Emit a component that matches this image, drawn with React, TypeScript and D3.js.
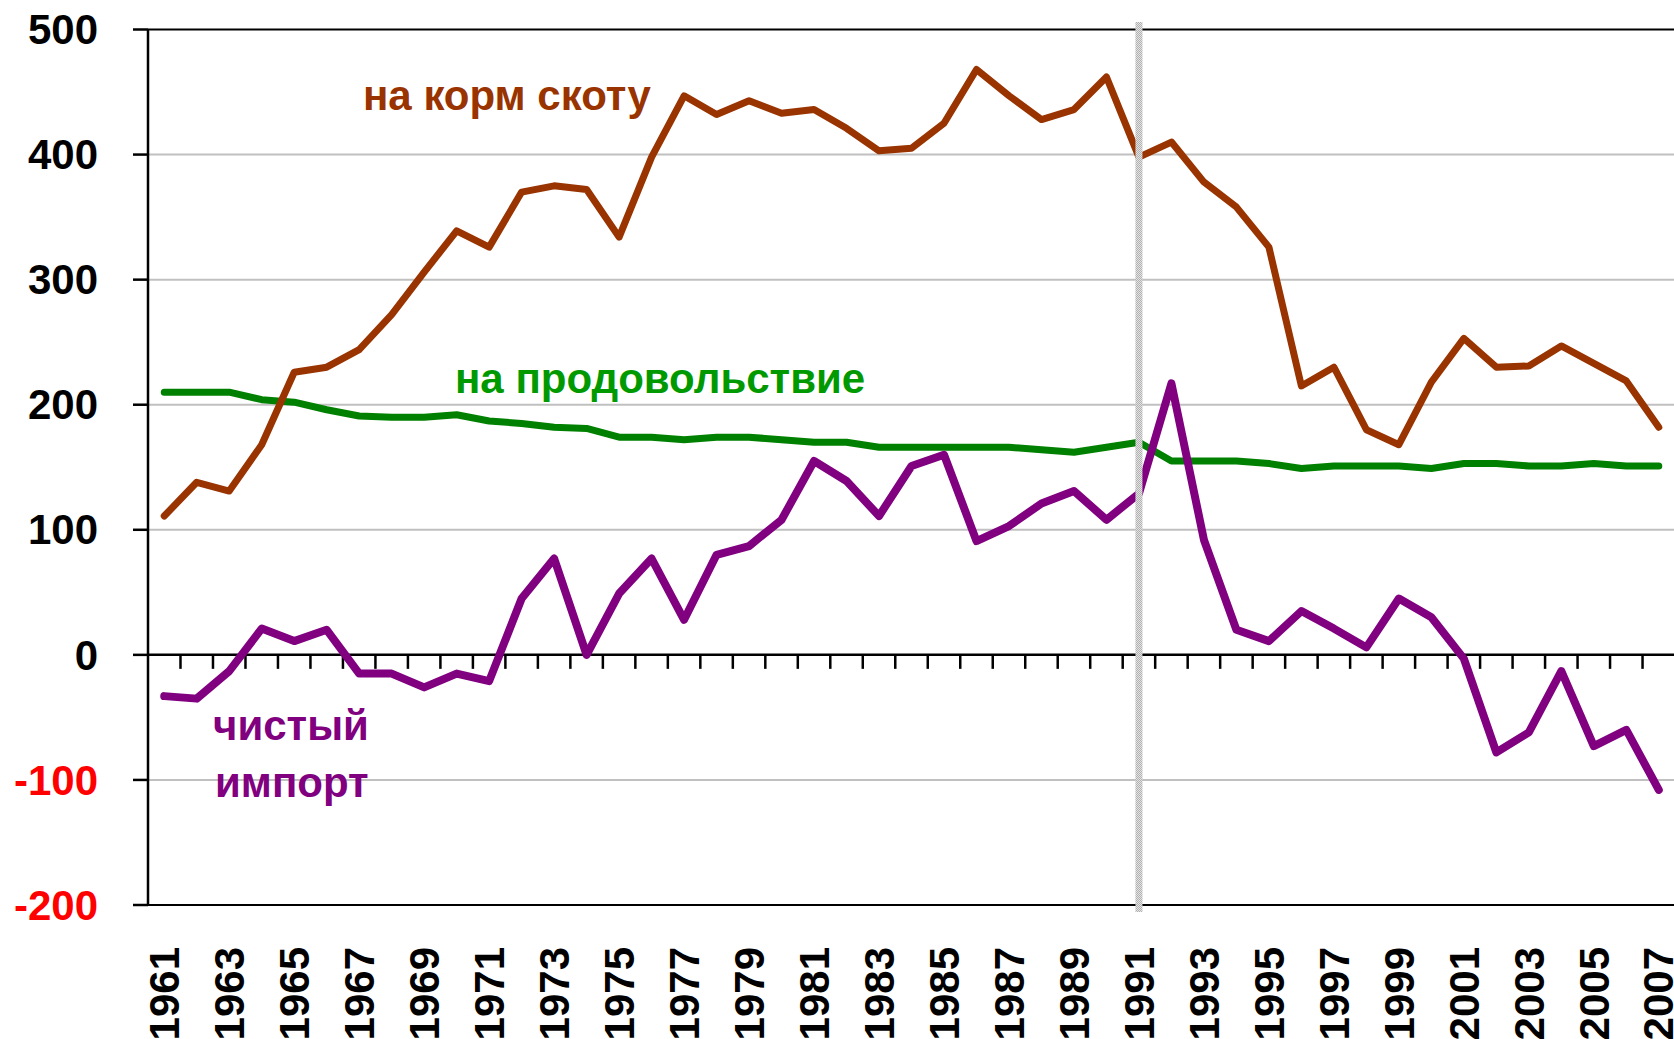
import React from 'react';
import * as d3 from 'd3';

const years = [
  1961, 1962, 1963, 1964, 1965, 1966, 1967, 1968, 1969, 1970,
  1971, 1972, 1973, 1974, 1975, 1976, 1977, 1978, 1979, 1980,
  1981, 1982, 1983, 1984, 1985, 1986, 1987, 1988, 1989, 1990,
  1991, 1992, 1993, 1994, 1995, 1996, 1997, 1998, 1999, 2000,
  2001, 2002, 2003, 2004, 2005, 2006, 2007,
];

// на корм скоту
const feed = [
  111, 138, 131, 168, 226, 230, 244, 272, 306, 339,
  326, 370, 375, 372, 334, 398, 447, 432, 443, 433,
  436, 421, 403, 405, 425, 468, 447, 428, 436, 462,
  398, 410, 378, 358, 326, 215, 230, 180, 168, 218,
  253, 230, 231, 247, 233, 219, 182,
];

// на продовольствие
const food = [
  210, 210, 210, 204, 202, 196, 191, 190, 190, 192,
  187, 185, 182, 181, 174, 174, 172, 174, 174, 172,
  170, 170, 166, 166, 166, 166, 166, 164, 162, 166,
  170, 155, 155, 155, 153, 149, 151, 151, 151, 149,
  153, 153, 151, 151, 153, 151, 151,
];

// чистый импорт
const netImport = [
  -33, -35, -13, 21, 11, 20, -15, -15, -26, -15,
  -21, 45, 77, 0, 49, 77, 28, 80, 87, 108,
  155, 139, 111, 151, 160, 91, 103, 121, 131, 108,
  129, 217, 92, 20, 11, 35, 21, 6, 45, 30,
  -3, -78, -62, -13, -73, -60, -108,
];

const yTicks = [500, 400, 300, 200, 100, 0, -100, -200];
const yearLabels = years.filter((y) => y % 2 === 1);
const breakYear = 1991;

const W = 1674;
const H = 1039;
const FONT = '"Liberation Sans", Arial, sans-serif';

const App = () => {
  const x = d3.scaleBand<number>().domain(years).range([148, 148 + 47 * 32.49]);
  const y = d3.scaleLinear().domain([-200, 500]).range([905, 29.5]);
  const cx = (yr: number) => (x(yr) as number) + x.bandwidth() / 2;

  const line = d3
    .line<number>()
    .x((_, i) => cx(years[i]))
    .y((d) => y(d));

  const left = 148;
  const right = W;

  return (
    <svg
      width={W}
      height={H}
      style={{ position: 'absolute', left: 0, top: 0, background: '#fff' }}
      fontFamily={FONT}
      fontWeight="bold"
    >
      <defs>
        <pattern id="hatch" width="2" height="2" patternUnits="userSpaceOnUse">
          <rect width="2" height="2" fill="#e4e4e4" />
          <rect width="1" height="1" fill="#b0b0b0" />
          <rect x="1" y="1" width="1" height="1" fill="#b0b0b0" />
        </pattern>
      </defs>

      {/* gridlines */}
      {yTicks
        .filter((t) => t !== 500 && t !== 0 && t !== -200)
        .map((t) => (
          <line key={t} x1={left} x2={right} y1={y(t)} y2={y(t)} stroke="#c0c0c0" strokeWidth={2} />
        ))}
      <line x1={left} x2={right} y1={y(500)} y2={y(500)} stroke="#000" strokeWidth={2} />
      <line x1={left} x2={right} y1={y(-200)} y2={y(-200)} stroke="#000" strokeWidth={2} />

      {/* y axis */}
      <line x1={left} x2={left} y1={y(500)} y2={y(-200)} stroke="#000" strokeWidth={2.5} />
      {yTicks.map((t) => (
        <g key={t}>
          <line x1={133} x2={left} y1={y(t)} y2={y(t)} stroke="#000" strokeWidth={2.5} />
          <text
            x={98}
            y={y(t)}
            dy="0.35em"
            textAnchor="end"
            fontSize={42}
            fill={t < 0 ? '#ff0000' : '#000'}
          >
            {t}
          </text>
        </g>
      ))}

      {/* zero axis with category ticks */}
      <line x1={left} x2={right} y1={y(0)} y2={y(0)} stroke="#000" strokeWidth={2.5} />
      {years.slice(1).map((yr) => (
        <line
          key={yr}
          x1={x(yr) as number}
          x2={x(yr) as number}
          y1={y(0)}
          y2={y(0) + 14}
          stroke="#000"
          strokeWidth={2.5}
        />
      ))}

      {/* series */}
      <path d={line(food) || ''} fill="none" stroke="#008000" strokeWidth={7} strokeLinejoin="round" strokeLinecap="round" />
      <path d={line(feed) || ''} fill="none" stroke="#993300" strokeWidth={7} strokeLinejoin="round" strokeLinecap="round" />
      <path d={line(netImport) || ''} fill="none" stroke="#800080" strokeWidth={8} strokeLinejoin="round" strokeLinecap="round" />

      {/* 1991 divider */}
      <rect x={cx(breakYear) - 3.5} y={22} width={7} height={890} fill="url(#hatch)" />

      {/* series labels */}
      <text x={363} y={110} fontSize={42} fill="#993300">на корм скоту</text>
      <text x={455} y={393} fontSize={42} fill="#009900">на продовольствие</text>
      <text x={213} y={740} fontSize={42} fill="#800080">чистый</text>
      <text x={215} y={797} fontSize={42} fill="#800080">импорт</text>

      {/* x labels */}
      {yearLabels.map((yr) => (
        <text
          key={yr}
          transform={`translate(${cx(yr)},947) rotate(-90)`}
          dy="0.35em"
          textAnchor="end"
          fontSize={42}
          fill="#000"
        >
          {yr}
        </text>
      ))}
    </svg>
  );
};

export default App;
